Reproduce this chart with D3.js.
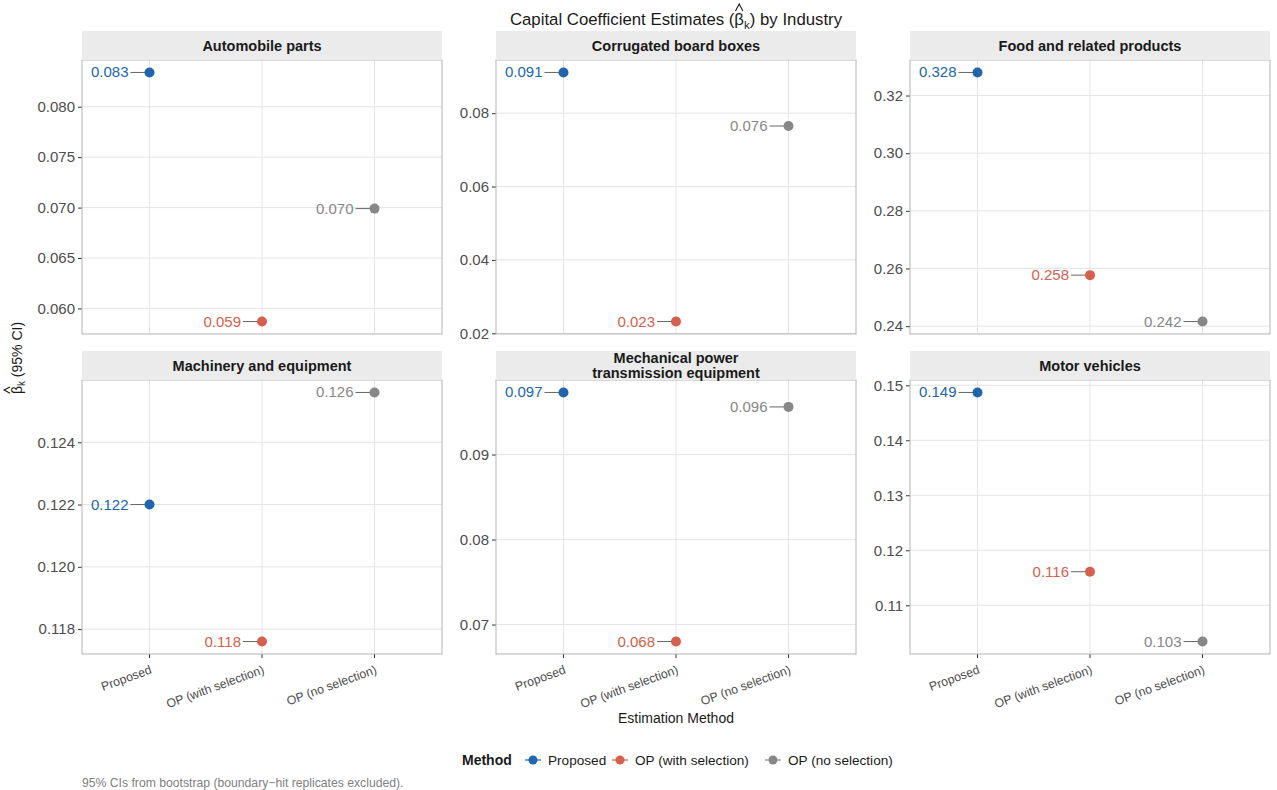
<!DOCTYPE html>
<html>
<head>
<meta charset="utf-8">
<script src="https://cdn.jsdelivr.net/npm/d3@7"></script>
<style>
  html, body { margin: 0; padding: 0; background: #fff; }
  svg { display: block; font-family: "Liberation Sans", Arial, sans-serif; }
</style>
</head>
<body>
<svg id="chart" width="1277" height="790"></svg>
<script>
// ---- data ----
const industries = [
  "Automobile parts", "Corrugated board boxes", "Food and related products",
  "Machinery and equipment", "Mechanical power\ntransmission equipment", "Motor vehicles"
];
const methods = ["Proposed", "OP (with selection)", "OP (no selection)"];
const proposed      = [0.0834, 0.0911, 0.3280, 0.1220, 0.0973, 0.1487];
const opWithSel     = [0.0587, 0.0232, 0.2577, 0.1176, 0.0680, 0.1161];
const opNoSel       = [0.0699, 0.0765, 0.2416, 0.1256, 0.0956, 0.1034];
const yTicks = [
  [0.060, 0.065, 0.070, 0.075, 0.080],
  [0.02, 0.04, 0.06, 0.08],
  [0.24, 0.26, 0.28, 0.30, 0.32],
  [0.118, 0.120, 0.122, 0.124],
  [0.07, 0.08, 0.09],
  [0.11, 0.12, 0.13, 0.14, 0.15]
];
const yTickDecimals = [3, 2, 2, 3, 2, 2];
const methodColors = ["#2166AC", "#D6604D", "#878787"];

// ---- layout ----
const svg = d3.select("#chart");
const panelLeft = [82, 496, 910];
const panelW = 360;
const stripTop = [31, 351];
const stripH = 29;
const plotH = 274;
const seriesValues = [proposed, opWithSel, opNoSel];

// discrete x scale: 3 categories with 0.6 units of expansion on each side
const x = d3.scalePoint().domain(methods)
  .range([panelW * 0.6 / 3.2, panelW * 2.6 / 3.2]);

industries.forEach((name, i) => {
  const col = i % 3, row = Math.floor(i / 3);
  const left = panelLeft[col];
  const top = stripTop[row] + stripH;
  const vals = seriesValues.map(s => s[i]);
  const lo = d3.min(vals), hi = d3.max(vals);
  const pad = (hi - lo) * 0.05;
  const y = d3.scaleLinear().domain([lo - pad, hi + pad]).range([plotH, 0]);

  const g = svg.append("g").attr("transform", `translate(${left},${top})`);

  // strip
  svg.append("rect").attr("x", left).attr("y", stripTop[row])
    .attr("width", panelW).attr("height", stripH).attr("fill", "#EBEBEB");
  const lines = name.split("\n");
  const st = svg.append("text")
    .attr("x", left + panelW / 2)
    .attr("text-anchor", "middle")
    .attr("font-size", 14.5).attr("font-weight", "bold").attr("fill", "#1A1A1A");
  if (lines.length === 1) {
    st.attr("y", stripTop[row] + stripH / 2 + 5).text(name);
  } else {
    lines.forEach((l, k) => st.append("tspan")
      .attr("x", left + panelW / 2)
      .attr("y", stripTop[row] + 12 + k * 15).text(l));
  }

  // grid
  g.selectAll(".hg").data(yTicks[i]).join("line")
    .attr("x1", 0).attr("x2", panelW)
    .attr("y1", d => y(d)).attr("y2", d => y(d))
    .attr("stroke", "#E5E5E5").attr("stroke-width", 1);
  g.selectAll(".vg").data(methods).join("line")
    .attr("x1", d => x(d)).attr("x2", d => x(d))
    .attr("y1", 0).attr("y2", plotH)
    .attr("stroke", "#E5E5E5").attr("stroke-width", 1);

  // y axis
  const yAxis = d3.axisLeft(y).tickValues(yTicks[i])
    .tickFormat(d3.format("." + yTickDecimals[i] + "f"))
    .tickSize(4).tickPadding(3);
  const ya = g.append("g").call(yAxis);
  ya.select(".domain").remove();
  ya.selectAll(".tick line").attr("stroke", "#333");
  ya.selectAll(".tick text").attr("font-size", 15).attr("fill", "#4D4D4D")
    .attr("font-family", "Liberation Sans, Arial, sans-serif");

  // x axis on bottom row only
  if (row === 1) {
    const xa = g.append("g").attr("transform", `translate(0,${plotH})`);
    methods.forEach(m => {
      xa.append("line").attr("x1", x(m)).attr("x2", x(m))
        .attr("y1", 0).attr("y2", 4).attr("stroke", "#333");
      xa.append("text")
        .attr("transform", `translate(${x(m) + 3},${19}) rotate(-20)`)
        .attr("text-anchor", "end")
        .attr("font-size", 12.3).attr("fill", "#4D4D4D").text(m);
    });
  }

  // points, connectors and value labels
  methods.forEach((m, j) => {
    const v = seriesValues[j][i];
    const px = x(m), py = y(v);
    g.append("line").attr("x1", px - 19).attr("x2", px)
      .attr("y1", py).attr("y2", py).attr("stroke", "#666").attr("stroke-width", 1);
    g.append("circle").attr("cx", px).attr("cy", py).attr("r", 5)
      .attr("fill", methodColors[j]);
    g.append("text").attr("x", px - 21).attr("y", py + 5)
      .attr("text-anchor", "end").attr("font-size", 15)
      .attr("fill", methodColors[j]).text(d3.format(".3f")(v));
  });

  // border
  g.append("rect").attr("width", panelW).attr("height", plotH)
    .attr("fill", "none").attr("stroke", "#B3B3B3").attr("stroke-width", 1);
});

// helper: draw a hat accent over a given character of a text element
function addHat(textSel, charIndex, parent, size) {
  const ext = textSel.node().getExtentOfChar(charIndex);
  const cx = ext.x + ext.width / 2;
  const base = ext.y + 1;
  parent.append("path")
    .attr("d", `M${cx - size * 0.22},${base} L${cx},${base - size * 0.42} L${cx + size * 0.22},${base}`)
    .attr("fill", "none").attr("stroke", "#1A1A1A").attr("stroke-width", 1.1);
}

// title
const title = svg.append("text").attr("x", 676).attr("y", 25)
  .attr("text-anchor", "middle").attr("font-size", 16.8).attr("fill", "#1A1A1A");
title.append("tspan").text("Capital Coefficient Estimates (β");
title.append("tspan").attr("font-size", 11.5).attr("dy", 4).text("k");
title.append("tspan").attr("dy", -4).text(") by Industry");
addHat(title, "Capital Coefficient Estimates (".length, svg, 16.8);

// y axis title
const yTitleG = svg.append("g").attr("transform", "translate(22,358) rotate(-90)");
const yTitle = yTitleG.append("text").attr("x", 0).attr("y", 0)
  .attr("text-anchor", "middle").attr("font-size", 14).attr("fill", "#1A1A1A");
yTitle.append("tspan").text("β");
yTitle.append("tspan").attr("font-size", 10).attr("dy", 3).text("k");
yTitle.append("tspan").attr("dy", -3).text(" (95% CI)");
addHat(yTitle, 0, yTitleG, 14);

// x axis title
svg.append("text").attr("x", 676).attr("y", 723).attr("text-anchor", "middle")
  .attr("font-size", 14).attr("fill", "#1A1A1A").text("Estimation Method");

// legend
const legend = svg.append("g").attr("transform", "translate(462,760)");
legend.append("text").attr("x", 0).attr("y", 5).attr("font-size", 14)
  .attr("font-weight", "bold").attr("fill", "#1A1A1A").text("Method");
const legendKeyX = [71, 158, 311];
methods.forEach((m, j) => {
  const k = legend.append("g").attr("transform", `translate(${legendKeyX[j]},0)`);
  k.append("line").attr("x1", -8).attr("x2", 8).attr("stroke", methodColors[j]).attr("stroke-width", 1.2);
  k.append("circle").attr("r", 4.5).attr("fill", methodColors[j]);
  k.append("text").attr("x", 15).attr("y", 5).attr("font-size", 13.6)
    .attr("fill", "#1A1A1A").text(m);
});

// caption
svg.append("text").attr("x", 82).attr("y", 787).attr("font-size", 12.2)
  .attr("fill", "#808080").text("95% CIs from bootstrap (boundary\u2212hit replicates excluded).");
</script>
</body>
</html>
